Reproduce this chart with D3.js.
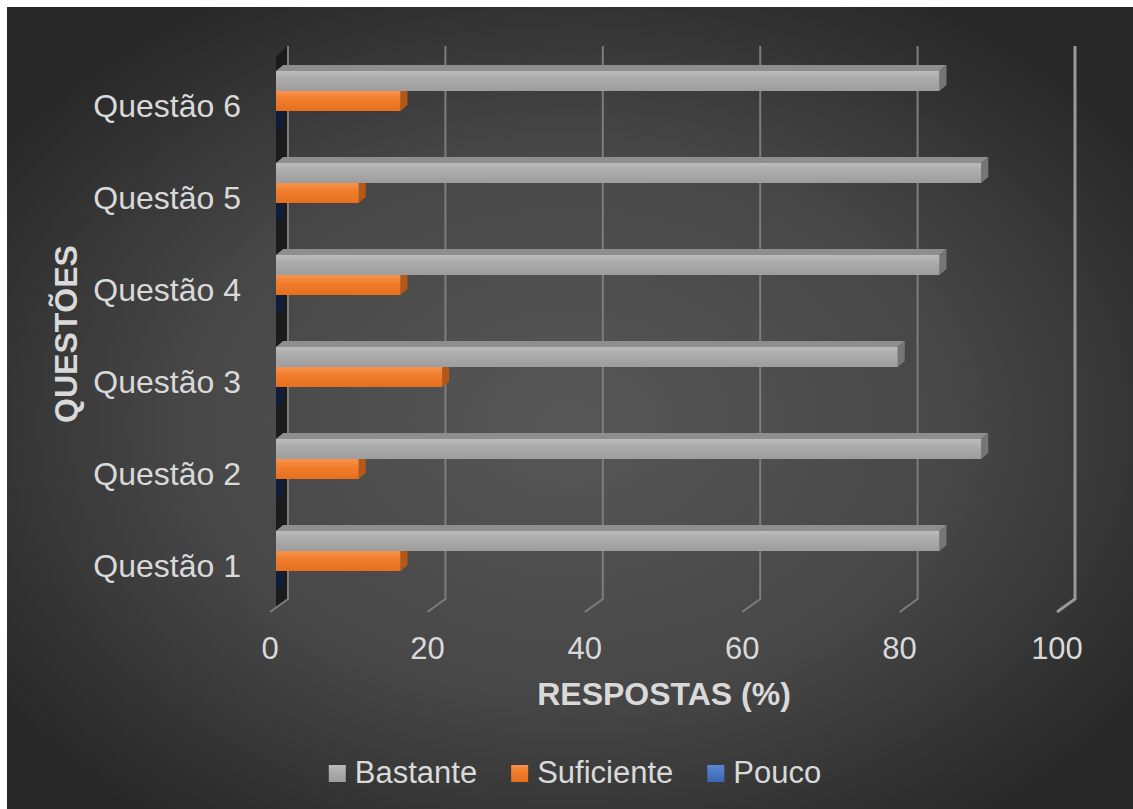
<!DOCTYPE html>
<html><head><meta charset="utf-8">
<script src="https://cdn.jsdelivr.net/npm/d3@7"></script>
<style>html,body{margin:0;padding:0;background:#fff;overflow:hidden}svg{display:block}</style>
</head><body>
<script>
const categories = ["Questão 1","Questão 2","Questão 3","Questão 4","Questão 5","Questão 6"];
const seriesNames = ["Bastante","Suficiente","Pouco"];
const bastante = [84.2,89.5,78.9,84.2,89.5,84.2];
const suficiente = [15.8,10.5,21.1,15.8,10.5,15.8];
const pouco = [0,0,0,0,0,0];
const xTicks = [0,20,40,60,80,100];
const xTitle = "RESPOSTAS (%)";
const yTitle = "QUESTÕES";

const W = 1133, H = 809;
const svg = d3.select("body").append("svg").attr("width", W).attr("height", H);
const defs = svg.append("defs");
const rg = defs.append("radialGradient").attr("id","bg").attr("cx","50%").attr("cy","52%").attr("r","62%");
rg.append("stop").attr("offset","0%").attr("stop-color","#575757");
rg.append("stop").attr("offset","55%").attr("stop-color","#474747");
rg.append("stop").attr("offset","100%").attr("stop-color","#272727");
function lin(id, stops){const g=defs.append("linearGradient").attr("id",id).attr("x1",0).attr("y1",0).attr("x2",0).attr("y2",1);
 stops.forEach(s=>g.append("stop").attr("offset",s[0]).attr("stop-color",s[1]));}
lin("gGray",[["0%","#bcbcbc"],["40%","#ababab"],["100%","#9d9d9d"]]);
lin("gOrange",[["0%","#f8924c"],["40%","#f17d2c"],["100%","#e56f1e"]]);
lin("gBlue",[["0%","#5a86d3"],["100%","#3b66b5"]]);

svg.append("rect").attr("x",7).attr("y",7).attr("width",W-7).attr("height",H-7).attr("fill","url(#bg)");

const colors = {
  Bastante:{front:"url(#gGray)", top:"#8e8e8e", side:"#767676", legend:"url(#gGray)"},
  Suficiente:{front:"url(#gOrange)", top:"#c8641f", side:"#b35816", legend:"url(#gOrange)"},
  Pouco:{front:"url(#gBlue)", top:"#12224a", side:"#0f1d3d", legend:"url(#gBlue)"}
};
const values = {Bastante:bastante, Suficiente:suficiente, Pouco:pouco};

const xBar = d3.scaleLinear().domain([0,100]).range([276,1064]);
const xFront = d3.scaleLinear().domain([0,100]).range([270,1057]);
const xBack = d3.scaleLinear().domain([0,100]).range([288,1075]);
const yCat = d3.scaleBand().domain(categories).range([608,56]);
const ySer = d3.scaleBand().domain(seriesNames).range([15,75]);
const dx = 7, dy = 6;
const gridTop = 46, gridBot = 599, floorFront = 612;

// side wall
svg.append("path").attr("d", `M276,57 L287,${gridTop} L287,${gridBot} L276,${gridBot+9} Z`).attr("fill","#1b1b1b");

// gridlines
const grid = svg.append("g");
xTicks.forEach(t=>{
  const xb = xBack(t), xf = xFront(t);
  grid.append("path").attr("d",`M${xb},${gridTop} L${xb},${gridBot} L${xf},${floorFront}`)
    .attr("fill","none").attr("stroke", t===100 ? "#9a9a9a" : "#7d7d7d")
    .attr("stroke-width", t===100 ? 3 : 2);
});

// bars
const bars = svg.append("g");
categories.forEach((c,i)=>{
  seriesNames.slice().reverse().forEach(s=>{
    const v = values[s][i];
    const x0 = xBar(0), x1 = xBar(v), y0 = yCat(c)+ySer(s), h = ySer.bandwidth();
    const col = colors[s];
    bars.append("path").attr("d",`M${x0},${y0} L${x1},${y0} L${x1+dx},${y0-dy} L${x0+dx},${y0-dy} Z`).attr("fill",col.top);
    bars.append("path").attr("d",`M${x1},${y0} L${x1+dx},${y0-dy} L${x1+dx},${y0+h-dy} L${x1},${y0+h} Z`).attr("fill",col.side);
    if (x1 > x0) bars.append("rect").attr("x",x0).attr("y",y0).attr("width",x1-x0).attr("height",h).attr("fill",col.front);
  });
});

const font = "'Liberation Sans', Arial, sans-serif";
const txt = "#d9d9d9";
// category labels
svg.append("g").selectAll("text").data(categories).join("text")
  .attr("x",241).attr("y",d=>yCat(d)+yCat.bandwidth()/2+15)
  .attr("text-anchor","end").attr("font-family",font).attr("font-size",32).attr("fill",txt).text(d=>d);
// tick labels
svg.append("g").selectAll("text").data(xTicks).join("text")
  .attr("x",d=>xFront(d)).attr("y",659).attr("text-anchor","middle")
  .attr("font-family",font).attr("font-size",31).attr("fill",txt).text(d=>d);
// titles
svg.append("text").attr("x",664).attr("y",705).attr("text-anchor","middle").attr("font-family",font)
  .attr("font-weight","bold").attr("font-size",32).attr("fill",txt).text(xTitle);
svg.append("text").attr("transform","translate(77,334) rotate(-90)").attr("text-anchor","middle").attr("font-family",font)
  .attr("font-weight","bold").attr("font-size",32).attr("fill",txt).text(yTitle);

// legend
const lg = svg.append("g");
let lx = 0;
seriesNames.forEach(s=>{
  const g = lg.append("g").attr("transform",`translate(${lx},0)`);
  g.append("rect").attr("x",0).attr("y",-18).attr("width",17).attr("height",17).attr("fill",colors[s].legend);
  const t = g.append("text").attr("x",26).attr("y",0).attr("font-family",font).attr("font-size",31).attr("fill",txt).text(s);
  const w = t.node().getComputedTextLength();
  lx += 26 + w + 34;
});
const total = lx - 34;
lg.attr("transform",`translate(${575 - total/2},783)`);
</script>
</body></html>
